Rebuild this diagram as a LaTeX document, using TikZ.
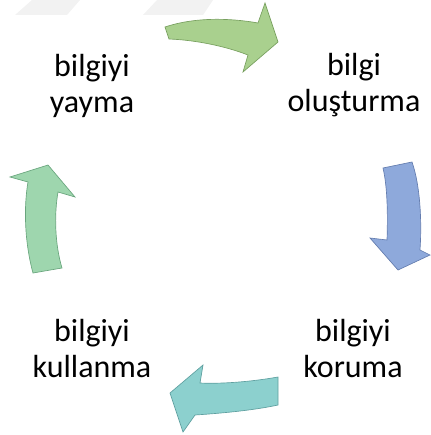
\documentclass[tikz,border=0pt]{standalone}
\usepackage{fontspec}
\setmainfont{Carlito}

\tikzset{every picture/.style={line width=0.75pt}}
\tikzset{
  steplabel/.style={anchor=base,inner sep=0.75pt,align=center,font=\fontsize{24}{27}\selectfont},
  arrowshape/.style={line width=0.5pt,draw opacity=1,fill opacity=1}
}

\begin{document}
\begin{tikzpicture}[x=0.75pt,y=0.75pt,yscale=-1,xscale=1]
\useasboundingbox (0,0) rectangle (430,435);

%Shape: Parallelogram [id:wm1]
\fill [color={rgb, 255:red, 242; green, 242; blue, 242 }] (32,0) -- (80,0) -- (67,15) -- (15,15) -- cycle ;
%Shape: Parallelogram [id:wm2]
\fill [color={rgb, 255:red, 242; green, 242; blue, 242 }] (157,0) -- (213,0) -- (203,15) -- (143,15) -- cycle ;

%Shape: Curved Arrow right [id:top]
\draw [arrowshape,color={rgb, 255:red, 120; green, 160; blue, 95 },fill={rgb, 255:red, 169; green, 208; blue, 142 }] (165,27) .. controls (195,17) and (230,18) .. (258,23) -- (265,3) -- (278,42) -- (243,72) -- (248,55) .. controls (225,46) and (195,40) .. (169,39) -- cycle ;
%Shape: Curved Arrow down [id:right]
\draw [arrowshape,color={rgb, 255:red, 100; green, 125; blue, 175 },fill={rgb, 255:red, 142; green, 169; blue, 219 }] (383,168) -- (412,162) .. controls (420,185) and (422,220) .. (420,250) -- (430,255) -- (398,270) -- (370,238) -- (387,240) .. controls (388,210) and (387,185) .. (383,168) -- cycle ;
%Shape: Curved Arrow left [id:bottom]
\draw [arrowshape,color={rgb, 255:red, 95; green, 160; blue, 160 },fill={rgb, 255:red, 140; green, 208; blue, 206 }] (278,377) .. controls (250,382) and (220,384) .. (200,383) -- (203,365) -- (170,393) -- (183,432) -- (195,415) .. controls (225,413) and (255,410) .. (278,405) -- cycle ;
%Shape: Curved Arrow up [id:left]
\draw [arrowshape,color={rgb, 255:red, 105; green, 165; blue, 125 },fill={rgb, 255:red, 158; green, 214; blue, 174 }] (33,273) .. controls (24,240) and (24,205) .. (28,182) -- (10,177) -- (48,165) -- (75,197) -- (58,192) .. controls (54,215) and (55,245) .. (62,268) -- cycle ;

% Text Node
\node [steplabel] (yayma) at (92,113) {bilgiyi\\yayma};
% Text Node
\node [steplabel] (olusturma) at (354,111) {bilgi\\oluşturma};
% Text Node
\node [steplabel] (koruma) at (353,377) {bilgiyi\\koruma};
% Text Node
\node [steplabel] (kullanma) at (92,377) {bilgiyi\\kullanma};

\end{tikzpicture}
\end{document}
